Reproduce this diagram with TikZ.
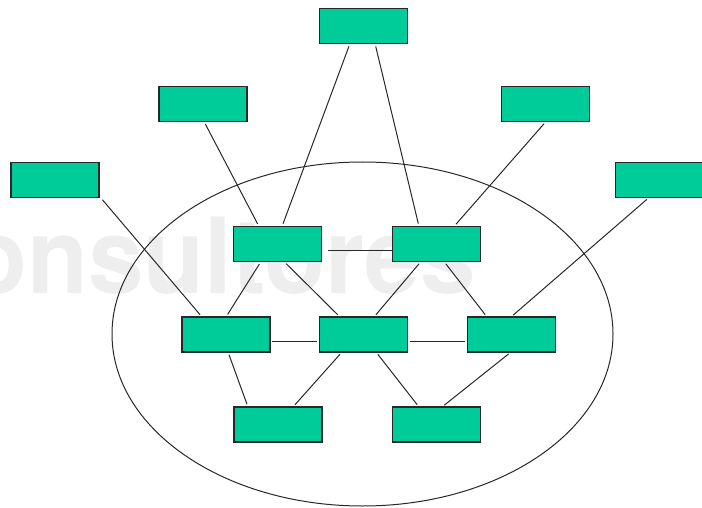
\documentclass[tikz,border=0pt]{standalone}
\usepackage{fontspec}
\newfontfamily\wmfont{TeX Gyre Heros}
\usetikzlibrary{calc}
\definecolor{boxgreen}{RGB}{0,204,153}
\definecolor{edgegray}{RGB}{40,40,40}
\definecolor{wmgray}{RGB}{238,238,238}
\tikzset{
  boxnode/.style={draw=edgegray, fill=boxgreen, line width=1.4pt, rectangle,
    minimum width=88pt, minimum height=35pt, inner sep=0pt, outer sep=0pt},
  link/.style={draw=edgegray, line width=1pt, shorten <=3pt, shorten >=3pt},
  hlink/.style={draw=edgegray, line width=1pt}
}
\begin{document}
\begin{tikzpicture}[x=1pt,y=-1pt]
\clip (0,0) rectangle (702,508);
\fill[white] (0,0) rectangle (702,508);
% watermark
\node[anchor=base east, inner sep=0pt, text=wmgray, xscale=0.95,
  font=\wmfont\bfseries\fontsize{105}{105}\selectfont] (wm) at (476,293) {Consultores};
% ellipse
\draw[edgegray, line width=1pt] (362.5,334) ellipse [x radius=250.5pt, y radius=172pt];
% boxes
\node[boxnode] (T)  at (363.5,26)  {};
\node[boxnode] (UL) at (203,104)   {};
\node[boxnode] (UR) at (545.5,104) {};
\node[boxnode] (L)  at (55,180)    {};
\node[boxnode] (R)  at (659.5,180) {};
\node[boxnode] (A)  at (277.5,244) {};
\node[boxnode] (B)  at (436.5,244) {};
\node[boxnode] (C)  at (226,334.5) {};
\node[boxnode] (D)  at (363.5,334.5) {};
\node[boxnode] (E)  at (511.5,334.5) {};
\node[boxnode] (F)  at (278,424.5) {};
\node[boxnode] (G)  at (436.5,424.5) {};
% connectors
\path[link] ($(T.south)+(-13.5,0)$) -- ($(A.north)+(4.5,0)$);
\path[link] ($(T.south)+(11.5,0)$) -- ($(B.north)+(-17.5,0)$);
\path[link] ($(UL.south)+(1,0)$) -- ($(A.north)+(-18.5,0)$);
\path[link] ($(UR.south)+(0.5,0)$) -- ($(B.north)+(17.5,0)$);
\path[link] ($(L.south east)+(1.5,0)$) -- ($(C.north)+(-24,0)$);
\path[link] ($(R.south)+(-10.5,0)$) -- ($(E.north)+(-0.5,0)$);
\path[link] ($(A.south)+(-16.5,0)$) -- ($(C.north)+(0,0)$);
\path[link] ($(A.south)+(6.5,0)$) -- ($(D.north)+(-23.5,0)$);
\path[link] ($(B.south)+(-15.5,0)$) -- ($(D.north)+(10.5,0)$);
\path[link] ($(B.south)+(7.5,0)$) -- ($(E.north)+(-24.5,0)$);
\path[link] ($(C.south)+(2,0)$) -- ($(F.north)+(-30,0)$);
\path[link] ($(D.south)+(-21.5,0)$) -- ($(F.north)+(15,0)$);
\path[link] ($(D.south)+(12.5,0)$) -- ($(G.north)+(-17.5,0)$);
\path[link] ($(E.south)+(-0.5,0)$) -- ($(G.north)+(5.5,0)$);
\path[hlink] ($(A.east)+(6,6)$) -- ($(B.west)+(0,6)$);
\path[hlink] ($(C.east)+(2,6.5)$) -- ($(D.west)+(-3,6.5)$);
\path[hlink] ($(D.east)+(2,6.5)$) -- ($(E.west)+(-3,6.5)$);
\end{tikzpicture}
\end{document}
